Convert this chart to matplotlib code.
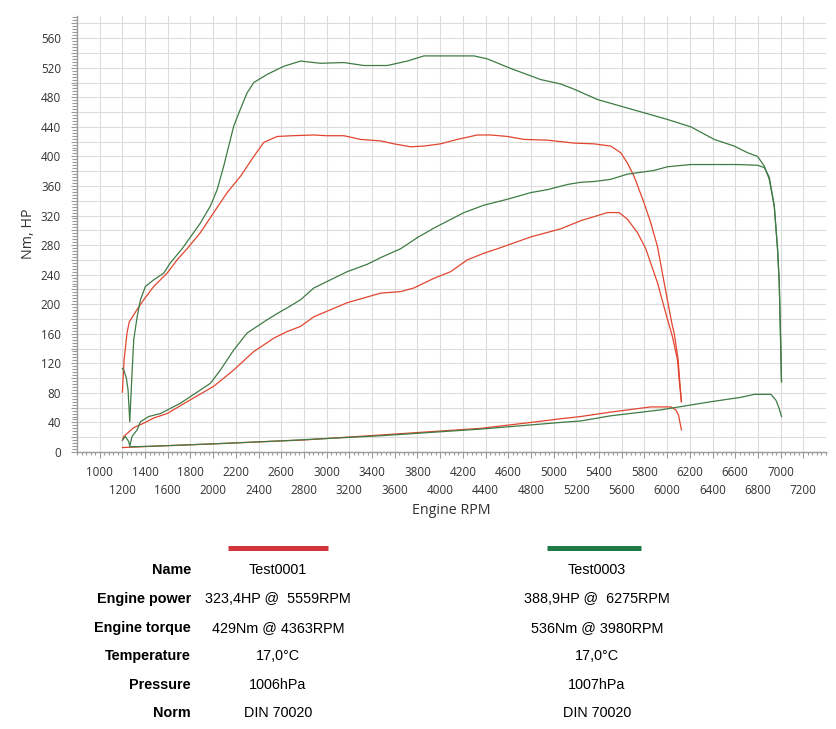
import matplotlib
matplotlib.use("Agg")
import matplotlib.pyplot as plt
from matplotlib.lines import Line2D
from matplotlib.ticker import MultipleLocator, FixedLocator, FuncFormatter, NullLocator

# ---------------- data ----------------
red_torque_rpm = [1200, 1215, 1241, 1260, 1285, 1330, 1388, 1476, 1594, 1682, 1770, 1888, 2005, 2123,
                  2240, 2358, 2446, 2564, 2700, 2887, 3000, 3152, 3299, 3475, 3593, 3740, 3857, 4004,
                  4151, 4328, 4445, 4592, 4739, 4945, 5062, 5180, 5356, 5503, 5591, 5650, 5709, 5797,
                  5856, 5915, 5974, 6018, 6047, 6062, 6097, 6110, 6126]
red_torque_val = [81, 125, 161, 176, 182, 193, 206, 224, 242, 260, 275, 297, 324, 351,
                  373, 400, 419, 427, 428, 429, 428, 428, 423, 421, 417, 413, 414, 417,
                  423, 429, 429, 427, 423, 422, 420, 418, 417, 414, 405, 391, 373, 337,
                  310, 278, 229, 193, 170, 161, 125, 98, 68]

red_power_rpm = [1200, 1212, 1256, 1300, 1388, 1476, 1594, 1770, 2005, 2181, 2358, 2534, 2652, 2770,
                 2887, 3181, 3475, 3651, 3769, 3945, 4092, 4239, 4386, 4504, 4798, 5062, 5239, 5474,
                 5577, 5650, 5738, 5812, 5915, 5988, 6047, 6091, 6106, 6126]
red_power_val = [16, 21, 27, 33, 39, 46, 52, 68, 89, 111, 136, 154, 163, 170,
                 183, 202, 215, 217, 222, 235, 244, 260, 269, 275, 291, 302, 313, 324,
                 324, 315, 297, 275, 229, 188, 156, 125, 98, 68]

red_loss_rpm = [1200, 1500, 2000, 2593, 2770, 3475, 4357, 4800, 5062, 5239, 5503, 5856, 6032, 6077,
                6100, 6126]
red_loss_val = [6, 8, 11, 15, 16, 23, 32, 40, 45, 48, 54, 61, 61, 57, 50, 30]

green_torque_rpm = [1200, 1212, 1235, 1250, 1265, 1271, 1285, 1300, 1330, 1359, 1403, 1476, 1564, 1623,
                    1726, 1888, 1976, 2035, 2093, 2181, 2240, 2299, 2358, 2476, 2623, 2770, 2946, 3152,
                    3328, 3534, 3710, 3857, 3980, 4298, 4416, 4622, 4886, 5062, 5180, 5386, 5591, 5797,
                    6003, 6209, 6415, 6591, 6709, 6797, 6856, 6900, 6944, 6973, 6988, 7002, 7008]
green_torque_val = [113, 111, 100, 84, 41, 61, 107, 152, 183, 206, 224, 233, 242, 256,
                    275, 310, 333, 355, 387, 441, 464, 486, 500, 511, 522, 529, 526, 527,
                    523, 523, 529, 536, 536, 536, 532, 519, 504, 498, 491, 477, 468, 459,
                    450, 440, 423, 414, 405, 400, 387, 369, 333, 275, 229, 138, 95]

green_power_rpm = [1200, 1226, 1256, 1265, 1285, 1330, 1359, 1432, 1535, 1711, 1888, 1976, 2064, 2181,
                   2299, 2476, 2593, 2652, 2770, 2887, 3181, 3357, 3475, 3651, 3798, 3945, 4210, 4386,
                   4592, 4798, 4945, 5121, 5239, 5356, 5503, 5650, 5885, 6003, 6209, 6621, 6797, 6856,
                   6900, 6944, 6973, 6988, 7002, 7008]
green_power_val = [16, 21, 14, 8, 21, 30, 41, 48, 52, 66, 84, 93, 111, 138,
                   161, 179, 190, 195, 206, 222, 244, 254, 263, 275, 290, 303, 324, 334,
                   342, 351, 355, 362, 365, 366, 369, 376, 381, 386, 389, 389, 388, 385,
                   372, 333, 275, 229, 138, 95]

green_loss_rpm = [1265, 1500, 2000, 2593, 3475, 4357, 5062, 5239, 5503, 5944, 6385, 6650, 6768, 6915,
                  6959, 6985, 7008]
green_loss_val = [7, 8, 11, 15, 22, 31, 40, 42, 49, 57, 68, 74, 78, 78, 70, 60, 48]

x_ticks = list(range(1000, 7201, 200))
x_ticks_upper = x_ticks[0::2]   # 1000, 1400, ... (first label row)
x_ticks_lower = x_ticks[1::2]   # 1200, 1600, ... (second label row)
y_ticks = list(range(0, 581, 20))
x_label = "Engine RPM"
y_label = "Nm, HP"

row_labels = ["Name", "Engine power", "Engine torque", "Temperature", "Pressure", "Norm"]
test1_values = ["Test0001", "323,4HP @  5559RPM", "429Nm @ 4363RPM", "17,0°C", "1006hPa", "DIN 70020"]
test3_values = ["Test0003", "388,9HP @  6275RPM", "536Nm @ 3980RPM", "17,0°C", "1007hPa", "DIN 70020"]

# ---------------- styling ----------------
W, H = 836, 729
RED = "#e2452f"
GREEN = "#3f7b45"
RED_BAR = "#d2363a"
GREEN_BAR = "#1f7a45"
GRID = "#dcdcdc"
AXC = "#9a9a9a"
TXT = "#333333"
TICK_FONT = ["Open Sans", "DejaVu Sans"]
TABLE_FONT = ["Liberation Sans", "DejaVu Sans"]
TICK_SIZE = 8.4

fig = plt.figure(figsize=(W / 100, H / 100), dpi=100)
fig.patch.set_facecolor("white")

left, right, top, bottom = 77, 826, 16, 452
ax = fig.add_axes([left / W, 1 - bottom / H, (right - left) / W, (bottom - top) / H])
ax.set_xlim(800, 7400)
ax.set_ylim(0, 590)

lw = 0.9
ax.plot(red_loss_rpm, red_loss_val, color=RED, lw=lw, zorder=3)
ax.plot(green_loss_rpm, green_loss_val, color=GREEN, lw=lw, zorder=3)
ax.plot(red_power_rpm, red_power_val, color=RED, lw=lw, zorder=3)
ax.plot(red_torque_rpm, red_torque_val, color=RED, lw=lw, zorder=3)
ax.plot(green_power_rpm, green_power_val, color=GREEN, lw=lw, zorder=4)
ax.plot(green_torque_rpm, green_torque_val, color=GREEN, lw=lw, zorder=4)

for s in ["top", "right"]:
    ax.spines[s].set_visible(False)
for s in ["left", "bottom"]:
    ax.spines[s].set_color(AXC)
    ax.spines[s].set_linewidth(1.0)

# x ticks: every 200 (grid + tick marks), first label row on the main axis
ax.xaxis.set_major_locator(FixedLocator(x_ticks))
ax.xaxis.set_minor_locator(MultipleLocator(40))
ax.xaxis.set_major_formatter(FuncFormatter(
    lambda v, p: f"{int(round(v))}" if int(round(v)) in x_ticks_upper else ""))

# second label row through a secondary x axis
sec = ax.secondary_xaxis("bottom")
sec.set_xticks(x_ticks_lower)
sec.set_xticklabels([str(v) for v in x_ticks_lower])
sec.xaxis.set_minor_locator(NullLocator())
sec.spines["bottom"].set_visible(False)
sec.tick_params(axis="x", length=0, pad=23, labelsize=TICK_SIZE, labelcolor=TXT)
for lbl in sec.get_xticklabels():
    lbl.set_family(TICK_FONT)

# y ticks
ax.yaxis.set_major_locator(FixedLocator(y_ticks))
ax.yaxis.set_minor_locator(MultipleLocator(4))
ax.yaxis.set_major_formatter(FuncFormatter(lambda v, p: f"{int(v)}" if int(v) % 40 == 0 else ""))

ax.tick_params(axis="x", which="major", length=4, width=0.8, color=AXC, pad=6,
               labelsize=TICK_SIZE, labelcolor=TXT)
ax.tick_params(axis="x", which="minor", length=2.5, width=0.8, color=AXC)
ax.tick_params(axis="y", which="major", length=4.5, width=0.8, color=AXC, pad=7,
               labelsize=TICK_SIZE, labelcolor=TXT)
ax.tick_params(axis="y", which="minor", length=3.5, width=0.8, color=AXC)
for lbl in ax.get_xticklabels() + ax.get_yticklabels():
    lbl.set_family(TICK_FONT)

ax.grid(True, which="major", color=GRID, lw=0.8, zorder=0)
ax.set_axisbelow(True)

ax.set_ylabel(y_label, fontsize=10.3, color=TXT, family=TICK_FONT, labelpad=3.5)
fig.text(ax.get_position().x0 + ax.get_position().width / 2, 1 - 511 / H, x_label,
         ha="center", va="center", fontsize=10.3, color=TXT, family=TICK_FONT)

# ---------------- summary table ----------------
def fx(px):
    return px / W

def fy(py):
    return 1 - py / H

fig.add_artist(Line2D([fx(228), fx(328)], [fy(548), fy(548)], color=RED_BAR, lw=3.6,
                      transform=fig.transFigure, solid_capstyle="butt"))
fig.add_artist(Line2D([fx(547), fx(641)], [fy(548), fy(548)], color=GREEN_BAR, lw=3.6,
                      transform=fig.transFigure, solid_capstyle="butt"))

row_y = [570, 599, 628, 656, 685, 713]
for yy, lab, v1, v3 in zip(row_y, row_labels, test1_values, test3_values):
    fig.text(fx(191), fy(yy), lab, ha="right", va="center", fontsize=10.4,
             fontweight="bold", family=TABLE_FONT, color="black")
    fig.text(fx(278), fy(yy), v1, ha="center", va="center", fontsize=10.4,
             family=TABLE_FONT, color="black")
    fig.text(fx(597), fy(yy), v3, ha="center", va="center", fontsize=10.4,
             family=TABLE_FONT, color="black")

fig.savefig("out.png", dpi=100, facecolor="white")
